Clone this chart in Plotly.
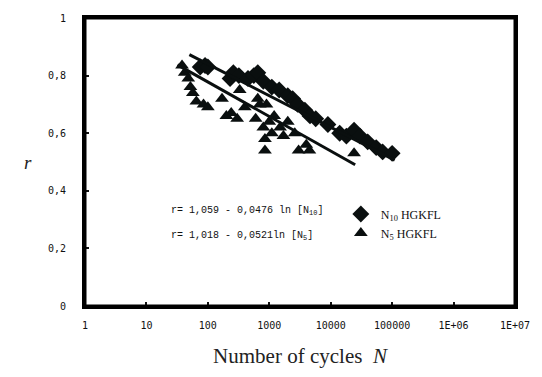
import plotly.graph_objects as go
import numpy as np

# --- data ---
n10_cycles = [75, 90, 100, 230, 260, 320, 450, 560, 650, 800, 1100, 1450, 2000, 2400, 2900,
              3800, 4600, 5700, 9000, 14000, 18000, 24000, 30000, 40000, 55000, 70000, 100000]
n10_r = [0.83, 0.835, 0.83, 0.79, 0.81, 0.80, 0.79, 0.80, 0.81, 0.78, 0.76, 0.75, 0.73, 0.72, 0.70,
         0.68, 0.66, 0.65, 0.63, 0.60, 0.59, 0.61, 0.59, 0.57, 0.55, 0.535, 0.53]

n5_cycles = [38, 42, 48, 52, 57, 65, 85, 100, 170, 200, 240, 300, 330, 400, 600, 650, 700, 800,
             850, 850, 900, 1000, 1100, 1200, 1500, 1700, 2000, 2600, 3000, 4000, 4500, 24000]
n5_r = [0.835, 0.81, 0.79, 0.76, 0.74, 0.71, 0.70, 0.69, 0.72, 0.66, 0.67, 0.65, 0.75, 0.69, 0.65,
        0.72, 0.70, 0.62, 0.58, 0.54, 0.70, 0.64, 0.60, 0.66, 0.62, 0.59, 0.64, 0.60, 0.54, 0.56,
        0.54, 0.53]

# fit equations shown on the chart: r = a - b ln(N)
fit10_a, fit10_b = 1.059, 0.0476
fit5_a, fit5_b = 1.018, 0.0521
fit10_range = [50, 110000]
fit5_range = [32, 25000]

x_tickvals = [1, 10, 100, 1000, 10000, 100000, 1e6, 1e7]
x_ticktext = ["1", "10", "100", "1000", "10000", "100000", "1E+06", "1E+07"]
y_tickvals = [0, 0.2, 0.4, 0.6, 0.8, 1]
y_ticktext = ["0", "0,2", "0,4", "0,6", "0,8", "1"]

eq10 = "r= 1,059 - 0,0476 ln [N<sub>10</sub>]"
eq5 = "r= 1,018 - 0,0521ln [N<sub>5</sub>]"

tick_font = dict(family="DejaVu Sans Mono", size=10, color="#111")

fig = go.Figure()

fig.add_trace(go.Scatter(x=n10_cycles, y=n10_r, mode="markers", name="N<sub>10</sub> HGKFL",
                         marker=dict(symbol="diamond", size=13, color="#0a0f0f")))
fig.add_trace(go.Scatter(x=n5_cycles, y=n5_r, mode="markers", name="N<sub>5</sub> HGKFL",
                         marker=dict(symbol="triangle-up", size=12, color="#0a0f0f")))

for (a, b, rng) in [(fit10_a, fit10_b, fit10_range), (fit5_a, fit5_b, fit5_range)]:
    xs = np.logspace(np.log10(rng[0]), np.log10(rng[1]), 40)
    fig.add_trace(go.Scatter(x=xs, y=a - b * np.log(xs), mode="lines", showlegend=False,
                             line=dict(color="#0a0f0f", width=3)))

fig.update_layout(
    width=542, height=377,
    margin=dict(l=85, r=25, t=17, b=69),
    paper_bgcolor="white", plot_bgcolor="white",
    showlegend=True,
    legend=dict(x=0.595, y=0.37, xanchor="left", yanchor="top", bgcolor="rgba(0,0,0,0)",
                font=dict(family="Liberation Serif", size=12, color="#111"),
                itemwidth=30, tracegroupgap=0),
    xaxis=dict(type="log", range=[0, 7], tickvals=x_tickvals, ticktext=x_ticktext,
               tickfont=tick_font, ticks="inside", ticklen=4, tickcolor="#111", tickwidth=1.5,
               showline=True, linecolor="black", linewidth=3, mirror=True,
               showgrid=False, zeroline=False, ticklabelstandoff=8,
               title=dict(text="Number of cycles  <i>N</i>",
                          font=dict(family="Liberation Serif", size=21, color="#222"),
                          standoff=19)),
    yaxis=dict(range=[0, 1], tickvals=y_tickvals, ticktext=y_ticktext,
               tickfont=tick_font, ticks="inside", ticklen=4, tickcolor="#111", tickwidth=1.5,
               showline=True, linecolor="black", linewidth=3, mirror=True,
               showgrid=False, zeroline=False, ticklabelstandoff=14),
    shapes=[dict(type="rect", xref="paper", yref="paper", x0=0, x1=1, y0=0, y1=1,
                 line=dict(color="black", width=3), fillcolor="rgba(0,0,0,0)", layer="above")],
    annotations=[
        dict(text="<i>r</i>", x=(22 - 85) / 432, y=(308 - 163) / 291, xref="paper", yref="paper",
             showarrow=False, font=dict(family="Liberation Serif", size=19, color="#222")),
        dict(text=eq10, x=0.195, y=(308 - 212) / 291, xref="paper", yref="paper", xanchor="left",
             yanchor="middle", showarrow=False,
             font=dict(family="Liberation Mono", size=10, color="#111")),
        dict(text=eq5, x=0.195, y=(308 - 237) / 291, xref="paper", yref="paper", xanchor="left",
             yanchor="middle", showarrow=False,
             font=dict(family="Liberation Mono", size=10, color="#111")),
    ],
)

fig.write_html("out.html")
